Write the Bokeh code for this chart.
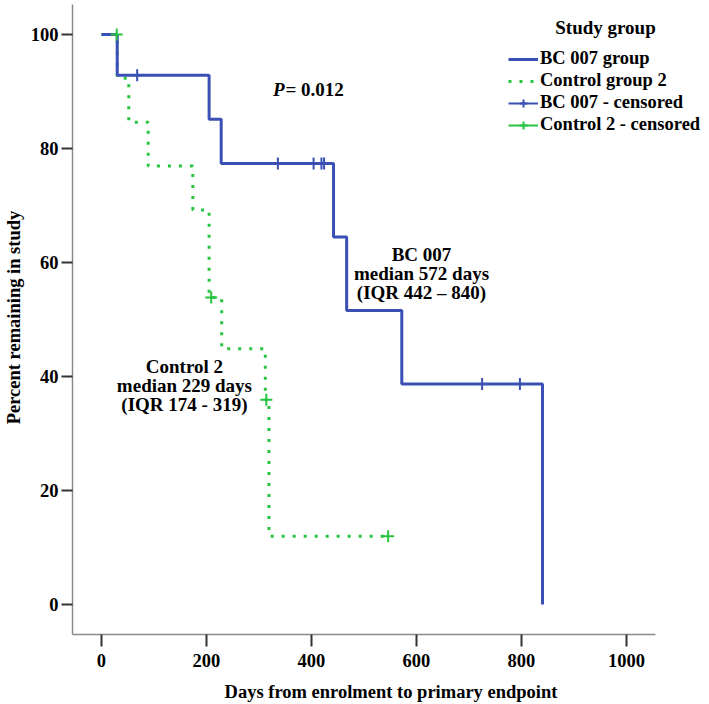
from bokeh.plotting import figure
from bokeh.models import FixedTicker, Legend, LegendItem, Range1d
from bokeh.core.properties import value
from bokeh.embed import file_html
from bokeh.resources import INLINE

# ---- data (Kaplan-Meier estimates) ----
bc_time = [0, 30, 205, 228, 442, 467, 572, 840]
bc_surv = [100, 92.86, 85.12, 77.38, 64.48, 51.59, 38.69, 0]
bc_cens_time = [68, 336, 404, 419, 424, 725, 797]
bc_cens_surv = [92.86, 77.38, 77.38, 77.38, 77.38, 38.69, 38.69]

ct_time = [0, 30, 52, 89, 174, 205, 229, 312, 319, 546]
ct_surv = [100, 92.31, 84.62, 76.92, 69.23, 53.85, 44.87, 35.90, 11.97, 11.97]
ct_cens_time = [29, 209, 314, 546]
ct_cens_surv = [100, 53.85, 35.90, 11.97]

x_ticks = [0, 200, 400, 600, 800, 1000]
y_ticks = [0, 20, 40, 60, 80, 100]

BLUE = "#3A50B4"
GREEN = "#26C43F"
FONT = "Liberation Serif"
FS = "18.5px"
FS_ANN = "19px"
NAN = float("nan")

p = figure(width=709, height=704,
           x_range=Range1d(-55.2, 1158.1), y_range=Range1d(-5.26, 105.96),
           output_backend="svg", toolbar_location=None,
           min_border_left=72, min_border_right=0,
           min_border_top=0, min_border_bottom=70)
p.outline_line_color = None
p.grid.visible = False

for ax in (p.xaxis, p.yaxis):
    ax.axis_line_color = "#8a8a8a"
    ax.axis_line_width = 1.5
    ax.major_tick_line_color = "#333333"
    ax.major_tick_line_width = 2
    ax.minor_tick_line_color = None
    ax.major_tick_in = 0
    ax.major_label_text_font = FONT
    ax.major_label_text_font_style = "bold"
    ax.major_label_text_font_size = FS
    ax.major_label_text_color = "black"
    ax.axis_label_text_font = FONT
    ax.axis_label_text_font_style = "bold"
    ax.axis_label_text_font_size = FS
    ax.axis_label_text_color = "black"

p.xaxis.bounds = (-55.2, 1055.2)
p.yaxis.bounds = (-5.26, 105.2)
p.xaxis.ticker = FixedTicker(ticks=x_ticks)
p.yaxis.ticker = FixedTicker(ticks=y_ticks)
p.xaxis.major_tick_out = 12
p.yaxis.major_tick_out = 11
p.xaxis.major_label_standoff = 7
p.yaxis.major_label_standoff = 3
p.xaxis.axis_label = "Days from enrolment to primary endpoint"
p.yaxis.axis_label = "Percent remaining in study"
p.xaxis.axis_label_standoff = 12
p.yaxis.axis_label_standoff = 4

# ---- curves ----
ct_step = p.step(ct_time, ct_surv, mode="after", line_color=GREEN,
                 line_width=3, line_dash="3 8")
bc_step = p.step(bc_time, bc_surv, mode="after", line_color=BLUE, line_width=3)

bc_cens = p.scatter(bc_cens_time, bc_cens_surv, marker="cross", size=12,
                    line_color=BLUE, line_width=2)
ct_cens = p.scatter(ct_cens_time, ct_cens_surv, marker="cross", size=12,
                    line_color=GREEN, line_width=2)

# legend-only helper lines (draw nothing on the plot)
bc_leg_line = p.line([NAN], [NAN], line_color=BLUE, line_width=2)
ct_leg_line = p.line([NAN], [NAN], line_color=GREEN, line_width=2)

legend = Legend(items=[
    LegendItem(label="BC 007 group", renderers=[bc_step]),
    LegendItem(label="Control group 2", renderers=[ct_step]),
    LegendItem(label="BC 007 - censored", renderers=[bc_leg_line, bc_cens]),
    LegendItem(label="Control 2 - censored", renderers=[ct_leg_line, ct_cens]),
], location=(436, 499), glyph_width=30, glyph_height=20, label_height=20,
    spacing=1, padding=0, margin=0, label_standoff=2,
    label_text_font=FONT, label_text_font_style="bold",
    label_text_font_size=FS, label_text_color="black",
    background_fill_alpha=0, border_line_alpha=0)
p.add_layout(legend)

common = dict(text_font=value(FONT), text_font_size=value(FS_ANN),
              text_font_style="bold", text_color="black")

# legend title
p.text(x=[960], y=[101.2], text=["Study group"], text_align="center",
       text_baseline="middle", **common)

# p-value
p.text(x=[348.6], y=[90.35], text=["P"], text_align="right",
       text_baseline="middle", text_font=value(FONT), text_font_size=value(FS_ANN),
       text_font_style="bold italic", text_color="black")
p.text(x=[350.5], y=[90.35], text=["= 0.012"], text_align="left",
       text_baseline="middle", **common)

# medians
p.text(x=[609.5], y=[58.07], text=["BC 007\nmedian 572 days\n(IQR 442 \u2013 840)"],
       text_align="center", text_baseline="middle", text_line_height=0.92, **common)
p.text(x=[158], y=[38.4], text=["Control 2\nmedian 229 days\n(IQR 174 - 319)"],
       text_align="center", text_baseline="middle", text_line_height=0.92, **common)

open("out.html", "w").write(file_html(p, INLINE))
